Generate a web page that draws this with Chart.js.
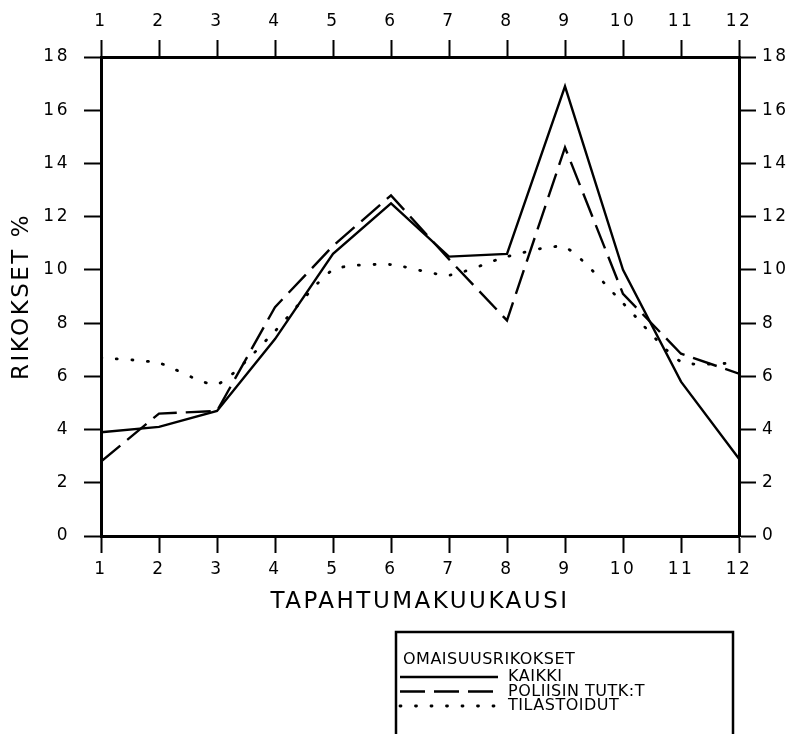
<!DOCTYPE html>
<html>
<head>
<meta charset="utf-8">
<script src="https://cdn.jsdelivr.net/npm/chart.js@4.4.1/dist/chart.umd.min.js"></script>
<style>
  html, body { margin: 0; padding: 0; background: #fff; }
  #chart { display: block; }
</style>
</head>
<body>
<canvas id="chart" width="793" height="734"></canvas>
<script>
// months 1..12 and the three series (percent of offences per month)
const months = [1, 2, 3, 4, 5, 6, 7, 8, 9, 10, 11, 12];
const kaikki = [3.9, 4.1, 4.7, 7.4, 10.6, 12.5, 10.5, 10.6, 16.9, 10.0, 5.8, 2.9];
const poliisinTutkimat = [2.8, 4.6, 4.7, 8.6, 10.9, 12.8, 10.4, 8.1, 14.6, 9.1, 6.85, 6.1];
const tilastoidut = [6.7, 6.5, 5.7, 7.7, 10.0, 10.2, 9.8, 10.5, 10.85, 8.75, 6.55, 6.5];
const seriesLabels = ['KAIKKI', 'POLIISIN TUTK:T', 'TILASTOIDUT'];
const legendTitle = 'OMAISUUSRIKOKSET';

const FONT = "'DejaVu Sans', sans-serif";
const tickFont = { family: FONT, size: 17 };
const titleFont = { family: FONT, size: 23 };

function toPoints(values) {
    return months.map((m, i) => ({ x: m, y: values[i] }));
}

// wider letter spacing, like the plotter lettering
const spacingPlugin = {
    id: 'spacing',
    beforeUpdate(chart) { chart.ctx.letterSpacing = '2.5px'; },
    beforeDraw(chart) { chart.ctx.letterSpacing = '2.5px'; }
};

// boxed legend under the chart, samples on the left
const boxLegend = {
    id: 'boxLegend',
    afterDraw(chart) {
        const ctx = chart.ctx;
        const left = 396, top = 632, right = 733, bottom = 745;
        ctx.save();
        ctx.letterSpacing = '0.5px';
        ctx.strokeStyle = '#000';
        ctx.lineWidth = 2.5;
        ctx.setLineDash([]);
        ctx.strokeRect(left, top, right - left, bottom - top);

        ctx.fillStyle = '#000';
        ctx.font = "16px " + FONT;
        ctx.textBaseline = 'middle';
        ctx.textAlign = 'left';
        ctx.fillText(legendTitle, 403, 660);

        chart.data.datasets.forEach((ds, i) => {
            const y = 677 + i * 14.5;
            ctx.beginPath();
            ctx.lineWidth = ds.borderWidth;
            ctx.lineCap = ds.borderCapStyle || 'butt';
            ctx.setLineDash(ds.borderDash || []);
            ctx.moveTo(400, y);
            ctx.lineTo(498, y);
            ctx.stroke();
            ctx.setLineDash([]);
            ctx.fillText(ds.label, 508, y);
        });
        ctx.restore();
    }
};

const axisBase = {
    type: 'linear',
    grid: { drawOnChartArea: false, tickLength: 17, tickWidth: 2, tickColor: '#000' },
    border: { display: true, color: '#000', width: 3 }
};

new Chart(document.getElementById('chart'), {
    type: 'line',
    data: {
        datasets: [{
            label: seriesLabels[0],
            data: toPoints(kaikki),
            borderColor: '#000',
            borderWidth: 2.4,
            pointRadius: 0,
            tension: 0
        }, {
            label: seriesLabels[1],
            data: toPoints(poliisinTutkimat),
            borderColor: '#000',
            borderWidth: 2.4,
            borderDash: [25, 9],
            pointRadius: 0,
            tension: 0
        }, {
            label: seriesLabels[2],
            data: toPoints(tilastoidut),
            borderColor: '#000',
            borderWidth: 2.8,
            borderDash: [1, 14.5],
            borderCapStyle: 'round',
            pointRadius: 0,
            tension: 0.2
        }]
    },
    options: {
        responsive: false,
        animation: false,
        devicePixelRatio: 1,
        layout: { padding: { left: 0, right: 0, top: 0, bottom: 98 } },
        plugins: {
            legend: { display: false },
            tooltip: { enabled: false }
        },
        scales: {
            x: {
                ...axisBase,
                position: 'bottom',
                min: 1, max: 12,
                ticks: { stepSize: 1, color: '#000', font: tickFont, padding: 6, maxRotation: 0 },
                title: { display: true, text: 'TAPAHTUMAKUUKAUSI', color: '#000', font: titleFont, padding: { top: 4, bottom: 20 } },
                afterFit(s) { s.height = 100; }
            },
            xTop: {
                ...axisBase,
                position: 'top',
                min: 1, max: 12,
                ticks: { stepSize: 1, color: '#000', font: tickFont, padding: 8, maxRotation: 0 },
                afterFit(s) { s.height = 57; }
            },
            y: {
                ...axisBase,
                position: 'left',
                min: 0, max: 18,
                ticks: { stepSize: 2, color: '#000', font: tickFont, padding: 14 },
                title: { display: true, text: 'RIKOKSET %', color: '#000', font: titleFont, padding: { top: 8, bottom: 4 } },
                afterFit(s) { s.width = 101; }
            },
            y2: {
                ...axisBase,
                position: 'right',
                min: 0, max: 18,
                ticks: { stepSize: 2, color: '#000', font: tickFont, padding: 6 },
                afterFit(s) { s.width = 54; }
            }
        }
    },
    plugins: [spacingPlugin, boxLegend]
});
</script>
</body>
</html>
